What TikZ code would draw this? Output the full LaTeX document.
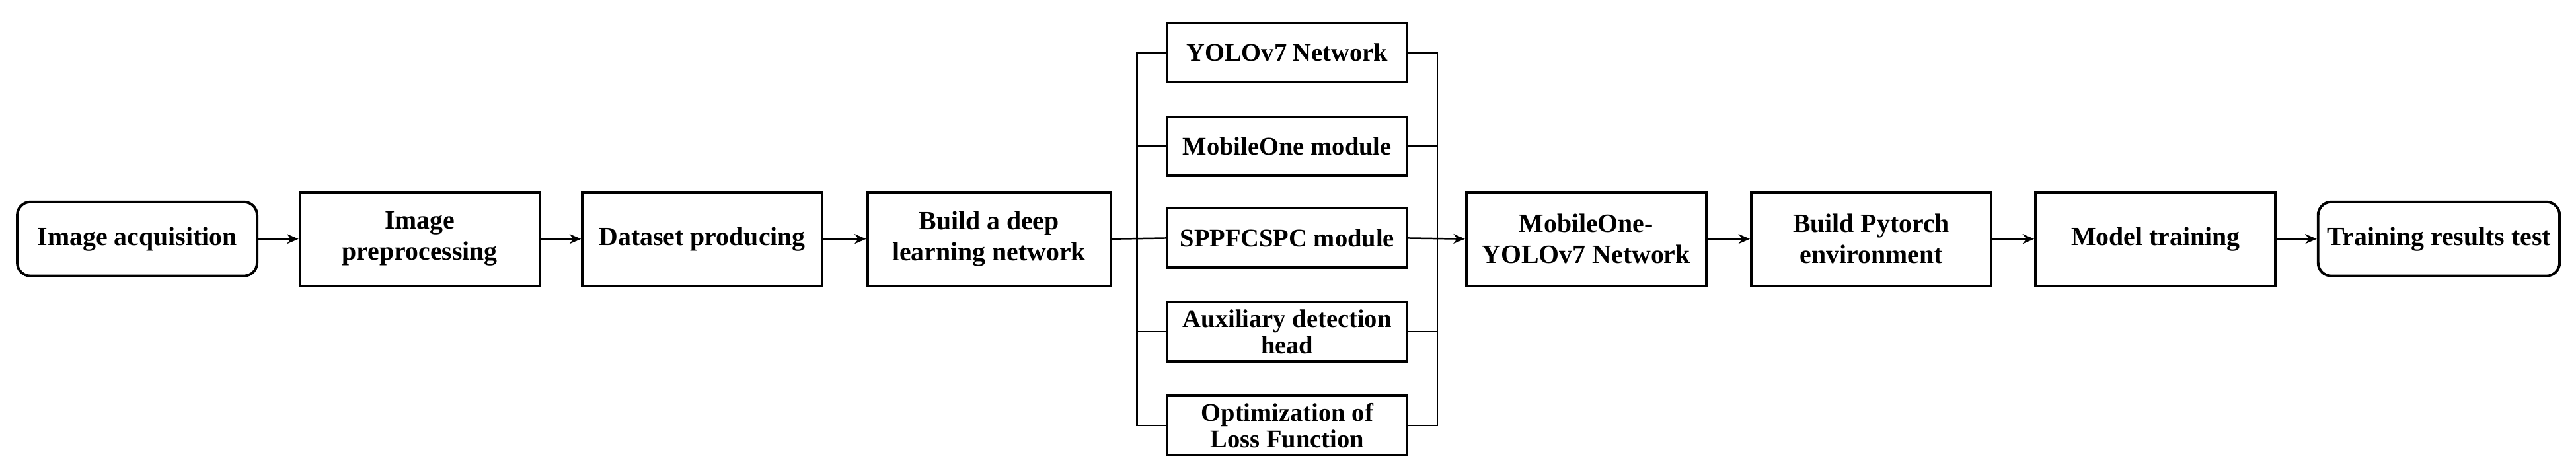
\documentclass[tikz,border=0pt]{standalone}
\usepackage{fontspec}
\setmainfont{Liberation Serif}
\usetikzlibrary{arrows.meta}
\begin{document}
\begin{tikzpicture}[x=1pt,y=-1pt,
  box/.style={draw,line width=1.6pt,minimum width=146pt,minimum height=57pt,align=center,inner sep=1pt,font=\fontsize{16}{19}\selectfont\bfseries},
  rbox/.style={box,rounded corners=8pt,minimum height=45pt},
  mbox/.style={box,line width=1.4pt,minimum height=36pt,font=\fontsize{15.5}{16}\selectfont\bfseries},
  arr/.style={line width=1.3pt,-{Stealth[length=7pt,width=6pt]}},
  ln/.style={line width=1pt}]
\useasboundingbox (0,0) rectangle (1568,289);
\node[rbox] (a) at (83.5,145.5) {Image acquisition};
\node[box] (b) at (255.5,145.5) {Image\\preprocessing};
\node[box] (c) at (427.5,145.5) {Dataset producing};
\node[box,minimum width=148pt] (d) at (602,145.5) {Build a deep\\learning network};
\node[mbox] (m1) at (783.5,32) {YOLOv7 Network};
\node[mbox] (m2) at (783.5,89) {MobileOne module};
\node[mbox] (m3) at (783.5,145) {SPPFCSPC module};
\node[mbox] (m4) at (783.5,202) {Auxiliary detection\\head};
\node[mbox] (m5) at (783.5,259) {Optimization of\\Loss Function};
\node[box] (e) at (965.5,145.5) {MobileOne-\\YOLOv7 Network};
\node[box] (f) at (1139,145.5) {Build Pytorch\\environment};
\node[box] (g) at (1312,145.5) {Model training};
\node[rbox,minimum width=147pt] (h) at (1484.5,145.5) {Training results test};
\coordinate (L) at (692,0);
\coordinate (R) at (875,0);
\draw[arr] (a) -- (b);
\draw[arr] (b) -- (c);
\draw[arr] (c) -- (d);
\draw[ln] (d.east) -- (m3.west);
\draw[ln] (m1.west) -- (L |- m1.west) -- (L |- m5.west) -- (m5.west);
\foreach \m in {m2,m4} \draw[ln] (\m.west) -- (L |- \m.west);
\draw[ln] (m1.east) -- (R |- m1.east) -- (R |- m5.east) -- (m5.east);
\foreach \m in {m2,m4} \draw[ln] (\m.east) -- (R |- \m.east);
\draw[arr,line width=1pt] (m3.east) -- (e.west);
\draw[arr] (e) -- (f);
\draw[arr] (f) -- (g);
\draw[arr] (g) -- (h);
\end{tikzpicture}
\end{document}
